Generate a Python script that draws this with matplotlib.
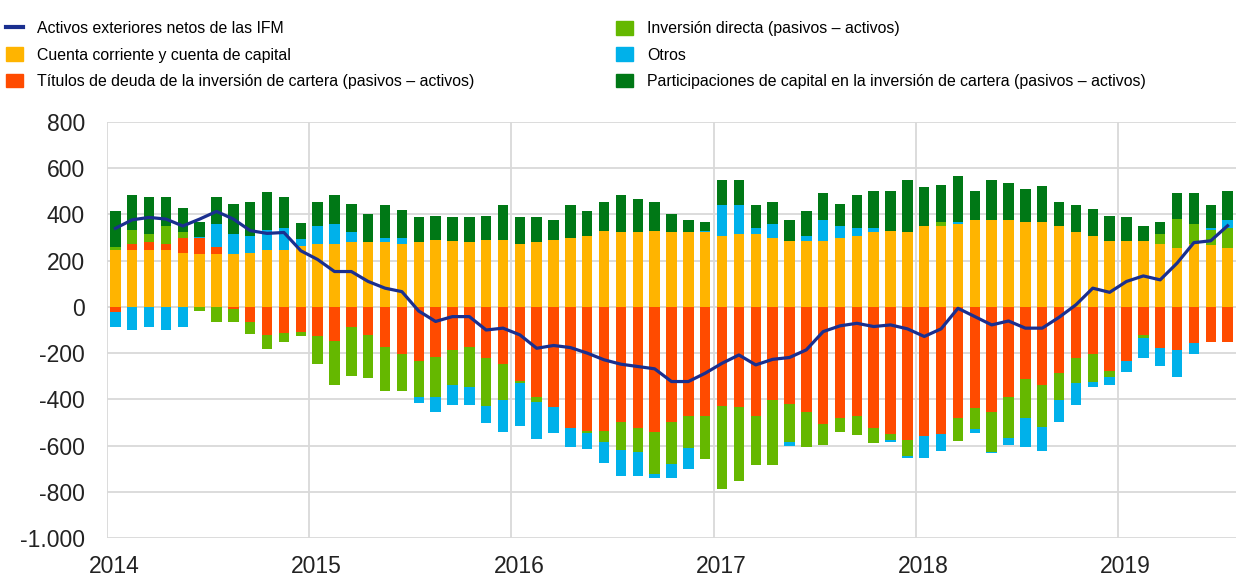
import numpy as np
import matplotlib.pyplot as plt
from matplotlib.lines import Line2D
from matplotlib.patches import Patch

# Datos mensuales, enero 2014 - julio 2019 (mm EUR, sumas de 12 meses)
years = ['2014', '2015', '2016', '2017', '2018', '2019']

cuenta_corriente = [247, 244, 244, 244, 235, 228, 228, 228, 235, 244, 244, 262,
                    271, 271, 280, 280, 280, 271, 280, 290, 286, 280, 290, 290,
                    271, 280, 290, 297, 307, 330, 322, 322, 330, 322, 322, 322,
                    307, 315, 315, 297, 287, 287, 287, 297, 307, 322, 330, 322,
                    351, 351, 358, 377, 377, 377, 366, 366, 351, 323, 307, 287,
                    287, 287, 271, 254, 271, 266, 254]
titulos_deuda = [-20, 27, 36, 27, 62, 69, 33, -8, -66, -121, -114, -110,
                 -128, -146, -88, -121, -175, -205, -232, -215, -186, -175, -222, -248,
                 -320, -391, -434, -525, -535, -535, -499, -525, -543, -499, -470, -470,
                 -427, -434, -470, -403, -420, -456, -508, -482, -470, -525, -551, -576,
                 -557, -551, -482, -436, -456, -392, -312, -338, -287, -222, -205, -277,
                 -232, -121, -179, -186, -157, -154, -154]
inversion_directa = [14, 62, 36, 81, 26, -16, -66, -58, -51, -62, -39, -18,
                     -119, -192, -211, -188, -189, -159, -160, -177, -152, -173, -205, -155,
                     -10, -19, 0, 0, -9, -48, -120, -101, -181, -181, -139, -189,
                     -361, -319, -214, -281, -163, -152, -89, -61, -84, -65, -25, -69,
                     0, 15, -98, -92, -170, -174, -170, -180, -116, -108, -118, -25,
                     0, -15, 45, 126, 88, 67, 87]
otros = [-65, -101, -85, -101, -85, 7, 97, 87, 72, 89, 97, 33,
         80, 87, 42, 0, 17, 26, -25, -61, -86, -76, -77, -137,
         -184, -161, -113, -82, -71, -91, -111, -104, -15, -59, -94, 8,
         132, 124, 28, 61, -17, 20, 90, 54, 36, 21, -7, -7,
         -95, -72, 11, -19, -7, -31, -125, -105, -93, -94, -25, -36,
         -48, -83, -76, -116, -46, 10, 36]
participaciones = [152, 149, 159, 123, 107, 62, 117, 131, 149, 166, 134, 69,
                   105, 124, 124, 123, 142, 123, 107, 105, 101, 107, 105, 149,
                   116, 107, 87, 142, 106, 126, 160, 144, 126, 81, 52, 36,
                   108, 108, 96, 98, 90, 106, 115, 95, 139, 159, 172, 225,
                   167, 162, 198, 125, 173, 158, 145, 159, 105, 116, 116, 108,
                   100, 64, 50, 112, 133, 96, 125]
activos_netos = [340, 377, 387, 380, 350, 380, 413, 380, 330, 318, 322, 243,
                 205, 153, 153, 110, 81, 66, -18, -63, -42, -42, -100, -92,
                 -121, -179, -167, -176, -200, -229, -248, -258, -268, -323, -323, -287,
                 -244, -208, -251, -227, -219, -186, -107, -82, -71, -85, -78, -95,
                 -128, -95, -6, -42, -78, -61, -92, -92, -45, 9, 81, 63,
                 110, 134, 117, 189, 278, 286, 351]

plt.rcParams['font.family'] = ['Liberation Sans', 'DejaVu Sans']

fig = plt.figure(figsize=(12.44, 5.79), dpi=100)
ax = fig.add_axes([107/1244, 1 - 538/579, (1236 - 107)/1244, (538 - 122)/579])

x = np.arange(len(cuenta_corriente)) + 0.5
series = [
    (cuenta_corriente, '#FFB400', 'Cuenta corriente y cuenta de capital'),
    (titulos_deuda, '#FF4B00', 'Títulos de deuda de la inversión de cartera (pasivos – activos)'),
    (inversion_directa, '#65B800', 'Inversión directa (pasivos – activos)'),
    (otros, '#00B1EA', 'Otros'),
    (participaciones, '#007816', 'Participaciones de capital en la inversión de cartera (pasivos – activos)'),
]
pos = np.zeros(len(x))
neg = np.zeros(len(x))
for vals, color, label in series:
    v = np.array(vals, dtype=float)
    bottom = np.where(v >= 0, pos, neg)
    ax.bar(x, v, width=0.62, bottom=bottom, color=color, linewidth=0, zorder=2)
    pos += np.clip(v, 0, None)
    neg += np.clip(v, None, 0)

ax.plot(x, activos_netos, color='#1A2F8F', lw=2.3, zorder=3)

ax.set_xlim(0, len(x))
ax.set_ylim(-1000, 800)
ax.set_yticks(range(-1000, 801, 200))
ax.set_yticklabels(['-1.000', '-800', '-600', '-400', '-200', '0', '200', '400', '600', '800'])
ax.set_xticks(np.arange(0, len(x), 12))
ax.set_xticklabels([])
ax.set_xticks(np.arange(0, len(x), 12) + 0.45, minor=True)
ax.set_xticklabels(years, minor=True)
ax.tick_params(axis='both', which='both', length=0, labelsize=16.5, colors='#222222')
ax.tick_params(axis='y', pad=16)
ax.tick_params(axis='x', which='minor', pad=12)
ax.grid(True, which='major', color='#D9D9D9', lw=1.3, zorder=0)
for s in ax.spines.values():
    s.set_visible(False)

h1 = [Line2D([0], [0], color='#1A2F8F', lw=3),
      Patch(color=series[0][1]), Patch(color=series[1][1])]
l1 = ['Activos exteriores netos de las IFM', series[0][2], series[1][2]]
h2 = [Patch(color=series[2][1]), Patch(color=series[3][1]), Patch(color=series[4][1])]
l2 = [series[2][2], series[3][2], series[4][2]]
kw = dict(loc='upper left', frameon=False, fontsize=11.4, handlelength=1.05,
          handleheight=0.95, handletextpad=0.9, labelspacing=0.7,
          borderpad=0, borderaxespad=0)
fig.legend(h1, l1, bbox_to_anchor=(6/1244, 1 - 21/579), **kw)
fig.legend(h2, l2, bbox_to_anchor=(616/1244, 1 - 21/579), **kw)

fig.savefig('out.png', dpi=100)
